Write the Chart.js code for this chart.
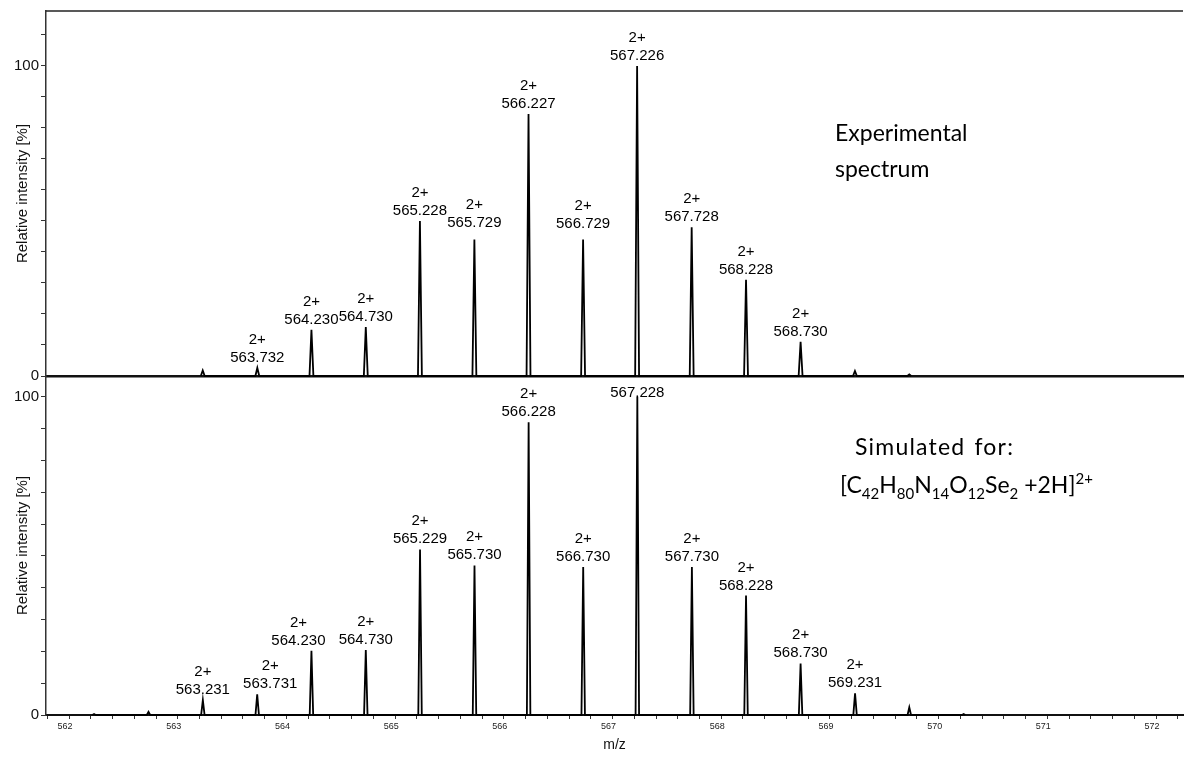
<!DOCTYPE html>
<html><head><meta charset="utf-8">
<script src="https://cdn.jsdelivr.net/npm/chart.js@4.4.1/dist/chart.umd.min.js"></script>
<style>
html,body{margin:0;padding:0;background:#fff;width:1198px;height:757px;overflow:hidden}
canvas{position:absolute;left:0}
#c1{top:0}
#c2{top:350px}
.note{position:absolute;font-family:Lato,"Open Sans",sans-serif;font-size:23px;color:#000;line-height:36px;white-space:nowrap}
.note sub,.note sup{font-size:15px;line-height:0}
</style></head>
<body>
<canvas id="c1" width="1198" height="400"></canvas>
<canvas id="c2" width="1198" height="407"></canvas>
<div class="note" style="left:835px;top:114px">Experimental<br>spectrum</div>
<div class="note" style="left:855px;top:428px;word-spacing:2px;letter-spacing:1.2px">Simulated for:</div>
<div class="note" style="left:840px;top:466px">[C<sub>42</sub>H<sub>80</sub>N<sub>14</sub>O<sub>12</sub>Se<sub>2</sub> +2H]<sup>2+</sup></div>
<script>
// ---- data ----
const expMz = [563.230, 563.732, 564.230, 564.730, 565.228, 565.729, 566.227, 566.729, 567.226, 567.728, 568.228, 568.730, 569.230, 569.730];
const expIntensity = [1.8, 2.6, 14.9, 15.8, 50, 44, 84.5, 44, 100, 48, 31, 11, 1.6, 0.5];
const expLabels = ['', '563.732', '564.230', '564.730', '565.228', '565.729', '566.227', '566.729', '567.226', '567.728', '568.228', '568.730', '', ''];
const expCharge = ['', '2+', '2+', '2+', '2+', '2+', '2+', '2+', '2+', '2+', '2+', '2+', '', ''];

const simMz = [562.230, 562.731, 563.231, 563.731, 564.230, 564.730, 565.229, 565.730, 566.228, 566.730, 567.228, 567.730, 568.228, 568.730, 569.231, 569.730, 570.230];
const simIntensity = [0.3, 1.0, 4.7, 6.5, 20.2, 20.4, 52, 47, 92, 46.5, 100, 46.5, 37.5, 16.2, 6.8, 2.4, 0.3];
const simLabels = ['', '', '563.231', '563.731', '564.230', '564.730', '565.229', '565.730', '566.228', '566.730', '567.228', '567.730', '568.228', '568.730', '569.231', '', ''];
const simCharge = ['', '', '2+', '2+', '2+', '2+', '2+', '2+', '2+', '2+', '', '2+', '2+', '2+', '2+', '', ''];

const xTickLabels = ['562', '563', '564', '565', '566', '567', '568', '569', '570', '571', '572'];

// ---- helpers ----
function profile(mz, inten, w) {
  const pts = [];
  mz.forEach((m, i) => {
    pts.push({x: m - w, y: 0});
    pts.push({x: m, y: inten[i]});
    pts.push({x: m + w, y: 0});
  });
  return pts;
}

const peakLabelPlugin = {
  id: 'peakLabels',
  afterDatasetsDraw(chart, args, opts) {
    const {ctx, scales: {x, y}} = chart;
    ctx.save();
    ctx.font = '15px "Liberation Sans", Arial, sans-serif';
    ctx.fillStyle = '#000';
    ctx.textAlign = 'center';
    ctx.textBaseline = 'alphabetic';
    opts.mz.forEach((m, i) => {
      const lab = opts.labels[i];
      if (!lab) return;
      const dx = (opts.shift && opts.shift[lab]) || 0;
      const gap = (opts.gaps && opts.gaps[lab] != null) ? opts.gaps[lab] : 6;
      const px = x.getPixelForValue(m) + dx;
      const py = y.getPixelForValue(opts.values[i]) - gap;
      ctx.fillText(lab, px, py);
      if (opts.charge[i]) ctx.fillText(opts.charge[i], px, py - 18);
    });
    ctx.restore();
  }
};

const frameTopPlugin = {
  id: 'frameTop',
  afterDraw(chart, args, opts) {
    if (!opts.enabled) return;
    const {ctx, chartArea} = chart;
    ctx.save();
    ctx.strokeStyle = '#222';
    ctx.lineWidth = 1.5;
    ctx.beginPath();
    ctx.moveTo(chartArea.left, chartArea.top);
    ctx.lineTo(chartArea.right, chartArea.top);
    ctx.stroke();
    ctx.restore();
  }
};

const XMIN = 561.788, XMAX = 572.248;

function yAxis(max) {
  return {
    type: 'linear', min: 0, max: max,
    afterFit(s) { s.width = 46; },
    border: {display: true, color: '#333', width: 1.5},
    grid: {drawOnChartArea: false, drawTicks: true, tickLength: 5, color: '#333', tickWidth: 1},
    ticks: {
      stepSize: 10, includeBounds: false, padding: 2,
      color: '#111', font: {family: '"Liberation Sans", Arial, sans-serif', size: 15},
      callback: v => (v === 0 || v === 100) ? String(v) : ''
    },
    title: {display: true, text: 'Relative intensity [%]', color: '#111',
      font: {family: '"Liberation Sans", Arial, sans-serif', size: 15}, padding: {top: 14, bottom: 0}}
  };
}

function baseOptions() {
  return {
    responsive: false, animation: false, devicePixelRatio: 1,
    plugins: {legend: {display: false}, tooltip: {enabled: false}},
    elements: {point: {radius: 0}, line: {tension: 0}}
  };
}

// ---- top chart (experimental) ----
const o1 = baseOptions();
o1.layout = {padding: {left: 0, right: 15, top: 11, bottom: 24}};
o1.scales = {
  x: {type: 'linear', min: XMIN, max: XMAX,
      afterFit(s) { s.height = 0; },
      border: {display: true, color: '#111', width: 2.5},
      grid: {display: false, drawTicks: false},
      ticks: {display: false}},
  y: yAxis(117.7)
};
o1.plugins.peakLabels = {mz: expMz, values: expIntensity, labels: expLabels, charge: expCharge,
  gaps: {'565.729': 13, '566.729': 12}};
o1.plugins.frameTop = {enabled: true};

new Chart(document.getElementById('c1'), {
  type: 'scatter',
  data: {datasets: [{data: profile(expMz, expIntensity, 0.018), showLine: true,
    borderColor: '#000', borderWidth: 1.8, pointRadius: 0, clip: false}]},
  options: o1,
  plugins: [peakLabelPlugin, frameTopPlugin]
});

// ---- bottom chart (simulated) ----
const o2 = baseOptions();
o2.layout = {padding: {left: 0, right: 15, top: 26, bottom: 0}};
o2.scales = {
  x: {type: 'linear', min: XMIN, max: XMAX,
      afterFit(s) { s.height = 42; },
      border: {display: true, color: '#111', width: 2},
      grid: {drawOnChartArea: false, drawTicks: true, tickLength: 4, color: '#333'},
      ticks: {
        stepSize: 0.2, includeBounds: false, autoSkip: false, maxRotation: 0, padding: 2, labelOffset: -4,
        color: '#222', font: {family: '"Liberation Sans", Arial, sans-serif', size: 9},
        callback: v => {
          const r = Math.round(v);
          return (Math.abs(v - r) < 1e-6 && xTickLabels.includes(String(r))) ? String(r) : '';
        }
      },
      title: {display: true, text: 'm/z', color: '#111',
        font: {family: '"Liberation Sans", Arial, sans-serif', size: 14}, padding: {top: 0, bottom: 3}}},
  y: yAxis(106.5)
};
o2.plugins.peakLabels = {mz: simMz, values: simIntensity, labels: simLabels, charge: simCharge,
  shift: {'563.731': 13, '564.230': -13}, gaps: {'567.228': 0}};
o2.plugins.frameTop = {enabled: false};

new Chart(document.getElementById('c2'), {
  type: 'scatter',
  data: {datasets: [{data: profile(simMz, simIntensity, 0.016), showLine: true,
    borderColor: '#000', borderWidth: 1.8, pointRadius: 0, clip: false}]},
  options: o2,
  plugins: [peakLabelPlugin, frameTopPlugin]
});
</script>
</body></html>
